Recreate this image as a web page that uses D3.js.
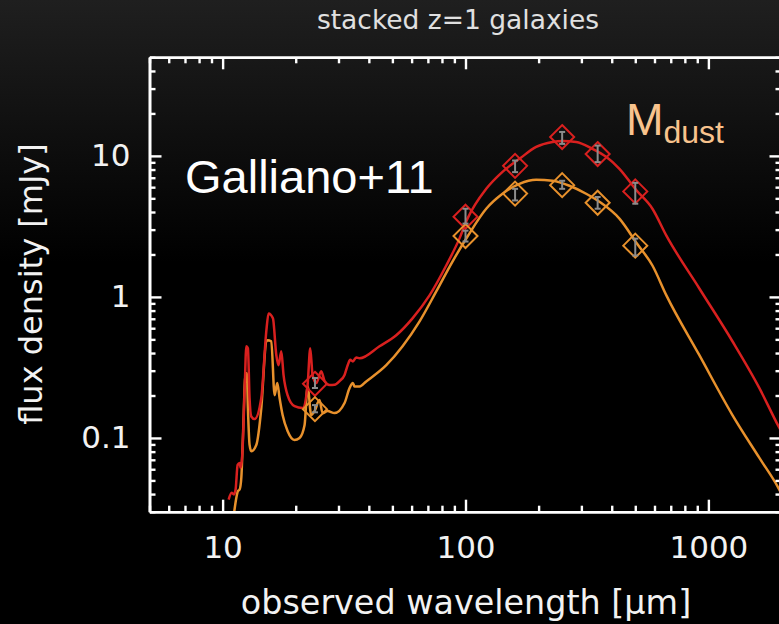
<!DOCTYPE html>
<html>
<head>
<meta charset="utf-8">
<script src="https://cdn.jsdelivr.net/npm/d3@7"></script>
<style>
  html, body { margin: 0; padding: 0; background: #000; }
  svg { display: block; }
</style>
</head>
<body>
<svg id="chart" width="779" height="624"></svg>
<script>
// ---- data -------------------------------------------------------------
// Upper model SED (observed wavelength in micron, flux density in mJy)
const lamTop = [10.59, 10.89, 11.13, 11.31, 11.53, 11.75, 11.86, 12.05, 12.32, 12.52, 12.71, 12.91, 13.12, 13.54,
  14.43, 15.13, 15.46, 16.11, 16.64, 17.00, 17.44, 17.82, 18.51, 19.77, 21.34, 22.38, 22.95, 23.46, 24.30,
  25.47, 26.30, 27.56, 28.9, 30.31, 31.77, 32.78, 33.53, 34.38, 35.48, 36.63, 44.26, 51.86, 60.5, 71.1,
  83.3, 94.4, 101.9, 121.7, 142.0, 166.8, 195.4, 228.0, 250.7, 285.5, 333.1, 379.3, 430.3, 505.4, 588.3,
  671.5, 918, 1256, 1622, 1941, 2100];
const fluxTop = [0.0365, 0.0408, 0.0398, 0.0431, 0.0644, 0.0665, 0.0614, 0.0762, 0.215, 0.447, 0.433, 0.192, 0.142, 0.136,
  0.192, 0.570, 0.764, 0.705, 0.386, 0.328, 0.412, 0.279, 0.201, 0.168, 0.163, 0.237, 0.433, 0.279, 0.245,
  0.297, 0.253, 0.237, 0.238, 0.253, 0.280, 0.330, 0.358, 0.349, 0.372, 0.367, 0.447, 0.535, 0.705, 1.025,
  1.67, 2.59, 3.59, 5.84, 7.71, 9.53, 11.58, 12.56, 12.76, 12.56, 11.21, 9.84, 8.09, 5.7, 4.22,
  2.72, 1.148, 0.485, 0.2256, 0.1216, 0.095];

// Lower model SED, M_dust variant
const lamLow = [11.15, 11.39, 11.56, 11.75, 11.94, 12.12, 12.43, 12.59, 12.71, 12.91, 13.12, 13.76, 14.43, 15.13,
  15.31, 15.86, 16.37, 16.79, 17.16, 17.66, 18.51, 19.77, 20.74, 21.75, 22.38, 23.17, 23.91, 25.06, 25.79,
  27.04, 28.9, 31.77, 33.31, 34.38, 34.92, 36.63, 39.02, 47.18, 55.06, 64.7, 75.8, 88.4, 101.9, 121.7,
  142.0, 166.8, 195.4, 228.0, 267.9, 313.8, 355.9, 430.3, 507.9, 588.3, 671.5, 918, 1256, 1622, 1941, 2100];
const fluxLow = [0.0295, 0.0377, 0.042, 0.0431, 0.0522, 0.100, 0.288, 0.288, 0.163, 0.0897, 0.0805, 0.0892, 0.163, 0.485,
  0.493, 0.485, 0.201, 0.245, 0.192, 0.1454, 0.112, 0.0968, 0.100, 0.1236, 0.233, 0.1454, 0.155, 0.1856, 0.150,
  0.155, 0.150, 0.1768, 0.2256, 0.245, 0.232, 0.232, 0.2517, 0.328, 0.447, 0.671, 1.094, 1.78, 2.68, 4.22,
  5.39, 6.34, 6.77, 6.66, 6.14, 5.39, 4.73, 3.59, 2.39, 1.67, 1.025, 0.386, 0.1454, 0.0722, 0.0443, 0.034];

// Photometric bands (micron) with model fluxes and measured ranges
const bandLam = [24, 100, 160, 250, 350, 500];
const photTop = [0.242, 3.7, 8.5, 13.6, 10.3, 5.6];
const errTopLo = [0.226, 3.31, 7.67, 12.16, 9.03, 4.58];
const errTopHi = [0.266, 4.22, 9.27, 14.78, 11.83, 6.44];
const photLow = [0.160, 2.7, 5.4, 6.2, 4.65, 2.31];
const errLowLo = [0.152, 2.47, 4.83, 5.84, 4.22, 1.965];
const errLowHi = [0.171, 2.95, 5.84, 6.66, 5.11, 2.59];

const xMajorTicks = [10, 100, 1000];
const xTickLabels = ["10", "100", "1000"];
const yMajorTicks = [0.1, 1, 10];
const yTickLabels = ["0.1", "1", "10"];

const titleText = "stacked z=1 galaxies";
const xTitle = "observed wavelength [\u03bcm]";
const yTitle = "flux density [mJy]";
const modelLabel = "Galliano+11";

// ---- styling -----------------------------------------------------------
const colTop = "#d9201f";
const colLow = "#e8912c";
const colLabel = "#f8c38d";
const colErr = "#8c8c8c";
const sansFont = "'DejaVu Sans', sans-serif";
const helvFont = "'Liberation Sans', Arial, sans-serif";

const plotLeft = 149.5, plotRight = 781.5, plotTop = 57.3, plotBottom = 511.7;

const svg = d3.select("#chart");

// Background: dark grey fading into black
const defs = svg.append("defs");
const grad = defs.append("linearGradient").attr("id", "bg")
  .attr("x1", 0).attr("y1", 0).attr("x2", 0).attr("y2", 1);
grad.append("stop").attr("offset", 0).attr("stop-color", "#1f1f1f");
grad.append("stop").attr("offset", 0.42).attr("stop-color", "#000000");
svg.append("rect").attr("width", 779).attr("height", 624).attr("fill", "url(#bg)");

defs.append("clipPath").attr("id", "plotclip")
  .append("rect")
  .attr("x", plotLeft).attr("y", plotTop)
  .attr("width", plotRight - plotLeft).attr("height", plotBottom - plotTop);

// ---- scales -----------------------------------------------------------
const x = d3.scaleLog().domain([5, 2000]).range([plotLeft, plotRight]);
const y = d3.scaleLog().domain([0.03, 50]).range([plotBottom, plotTop]);

// ---- curves -----------------------------------------------------------
const line = d3.line()
  .x(d => x(d[0]))
  .y(d => y(d[1]))
  .curve(d3.curveMonotoneX);

const curves = svg.append("g").attr("clip-path", "url(#plotclip)");
curves.append("path")
  .attr("d", line(d3.zip(lamLow, fluxLow)))
  .attr("fill", "none").attr("stroke", colLow).attr("stroke-width", 2.5)
  .attr("stroke-linejoin", "round");
curves.append("path")
  .attr("d", line(d3.zip(lamTop, fluxTop)))
  .attr("fill", "none").attr("stroke", colTop).attr("stroke-width", 2.5)
  .attr("stroke-linejoin", "round");

// ---- photometry: diamonds + error bars ---------------------------------
const diamondR = 12;
function diamondPath(cx, cy) {
  return `M${cx},${cy - diamondR}L${cx + diamondR},${cy}L${cx},${cy + diamondR}L${cx - diamondR},${cy}Z`;
}
const phot = svg.append("g");
[[photTop, colTop], [photLow, colLow]].forEach(([vals, col]) => {
  phot.selectAll(null).data(bandLam.map((l, i) => [l, vals[i]])).enter()
    .append("path")
    .attr("d", d => diamondPath(x(d[0]), y(d[1])))
    .attr("fill", "none").attr("stroke", col).attr("stroke-width", 2);
});
const capW = 3;
[[errTopLo, errTopHi], [errLowLo, errLowHi]].forEach(([lo, hi]) => {
  const g = phot.append("g").attr("stroke", colErr).attr("stroke-width", 2);
  bandLam.forEach((l, i) => {
    const cx = x(l), y0 = y(lo[i]), y1 = y(hi[i]);
    g.append("line").attr("x1", cx).attr("x2", cx).attr("y1", y0).attr("y2", y1);
    g.append("line").attr("x1", cx - capW).attr("x2", cx + capW).attr("y1", y0).attr("y2", y0);
    g.append("line").attr("x1", cx - capW).attr("x2", cx + capW).attr("y1", y1).attr("y2", y1);
  });
});

// ---- axes ------------------------------------------------------------
const majorLen = 12, minorLen = 6;
const xMinor = x.ticks().filter(v => !xMajorTicks.includes(v));
const yMinor = y.ticks().filter(v => !yMajorTicks.some(m => Math.abs(m - v) < 1e-9));

function styleAxis(g, showText) {
  g.selectAll("path.domain").attr("stroke", "#fff").attr("stroke-width", 2.6);
  g.selectAll(".tick line").attr("stroke", "#fff").attr("stroke-width", 2.4);
  g.selectAll(".tick text")
    .attr("fill", "#f2f2f2")
    .style("font-family", sansFont)
    .style("font-size", "31px");
  if (!showText) g.selectAll(".tick text").remove();
}

const axes = svg.append("g");
// bottom
axes.append("g").attr("transform", `translate(0,${plotBottom})`)
  .call(d3.axisBottom(x).tickValues(xMinor).tickSize(-minorLen).tickSizeOuter(0).tickFormat(""))
  .call(g => styleAxis(g, false));
axes.append("g").attr("transform", `translate(0,${plotBottom})`)
  .call(d3.axisBottom(x).tickValues(xMajorTicks).tickSize(-majorLen).tickSizeOuter(0)
    .tickPadding(24).tickFormat((d, i) => xTickLabels[i]))
  .call(g => styleAxis(g, true));
// top
axes.append("g").attr("transform", `translate(0,${plotTop})`)
  .call(d3.axisTop(x).tickValues(xMinor).tickSize(-minorLen).tickSizeOuter(0).tickFormat(""))
  .call(g => styleAxis(g, false));
axes.append("g").attr("transform", `translate(0,${plotTop})`)
  .call(d3.axisTop(x).tickValues(xMajorTicks).tickSize(-majorLen).tickSizeOuter(0).tickFormat(""))
  .call(g => styleAxis(g, false));
// left
axes.append("g").attr("transform", `translate(${plotLeft},0)`)
  .call(d3.axisLeft(y).tickValues(yMinor).tickSize(-minorLen).tickSizeOuter(0).tickFormat(""))
  .call(g => styleAxis(g, false));
axes.append("g").attr("transform", `translate(${plotLeft},0)`)
  .call(d3.axisLeft(y).tickValues(yMajorTicks).tickSize(-majorLen).tickSizeOuter(0)
    .tickPadding(19).tickFormat((d, i) => yTickLabels[i]))
  .call(g => styleAxis(g, true));
// right
axes.append("g").attr("transform", `translate(${plotRight},0)`)
  .call(d3.axisRight(y).tickValues(yMinor).tickSize(-minorLen).tickSizeOuter(0).tickFormat(""))
  .call(g => styleAxis(g, false));
axes.append("g").attr("transform", `translate(${plotRight},0)`)
  .call(d3.axisRight(y).tickValues(yMajorTicks).tickSize(-majorLen).tickSizeOuter(0).tickFormat(""))
  .call(g => styleAxis(g, false));

// ---- text ------------------------------------------------------------
svg.append("text")
  .attr("x", 458).attr("y", 29)
  .attr("text-anchor", "middle")
  .attr("fill", "#e0e0e0")
  .style("font-family", sansFont).style("font-size", "26.5px")
  .text(titleText);

svg.append("text")
  .attr("x", 466).attr("y", 614)
  .attr("text-anchor", "middle")
  .attr("fill", "#f2f2f2")
  .style("font-family", sansFont).style("font-size", "33.4px")
  .text(xTitle);

svg.append("text")
  .attr("transform", "translate(42,284) rotate(-90)")
  .attr("text-anchor", "middle")
  .attr("fill", "#f2f2f2")
  .style("font-family", sansFont).style("font-size", "32px")
  .text(yTitle);

svg.append("text")
  .attr("x", 185).attr("y", 193)
  .attr("fill", "#ffffff")
  .style("font-family", helvFont).style("font-size", "47px")
  .text(modelLabel);

const mLabel = svg.append("text")
  .attr("x", 626).attr("y", 135)
  .attr("fill", colLabel)
  .style("font-family", helvFont).style("font-size", "45px");
mLabel.append("tspan").text("M");
mLabel.append("tspan").attr("dy", 8).style("font-size", "32px").text("dust");
</script>
</body>
</html>
